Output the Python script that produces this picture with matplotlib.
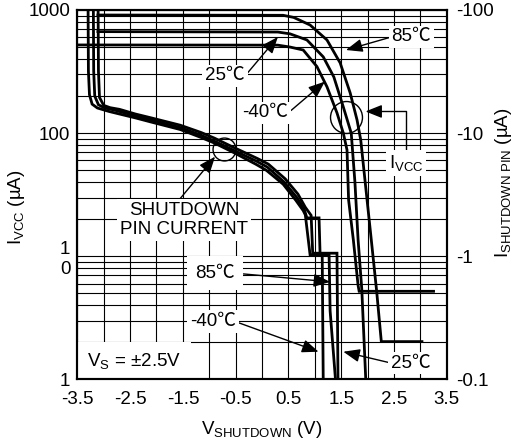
import matplotlib
matplotlib.use('Agg')
import matplotlib.pyplot as plt
from matplotlib.ticker import FixedLocator, NullFormatter

plt.rcParams['font.family'] = ['Liberation Sans', 'Noto Sans CJK JP']
plt.rcParams['mathtext.fontset'] = 'custom'
plt.rcParams['mathtext.rm'] = 'Liberation Sans'
plt.rcParams['mathtext.it'] = 'Liberation Sans:italic'
plt.rcParams['mathtext.bf'] = 'Liberation Sans:bold'
plt.rcParams['font.size'] = 13.5

# supply current (uA) vs shutdown voltage (V)
icc_85_x = [-3.11, 0.40, 0.60, 0.91, 1.23, 1.48, 1.67, 1.80, 1.87, 1.99, 2.07, 2.17, 2.26, 3.03]
icc_85_y = [910, 905, 870, 755, 571, 372, 212, 128, 88, 28.7, 13.6, 5.3, 2.03, 2.03]
icc_25_x = [-3.11, 0.30, 0.53, 0.85, 1.16, 1.36, 1.54, 1.69, 1.76, 1.82, 1.89, 1.97]
icc_25_y = [667, 662, 640, 571, 416, 286, 163, 100, 40, 13.6, 5.4, 0.9]
icc_m40_x = [-3.50, 0.30, 0.53, 0.78, 1.04, 1.23, 1.42, 1.54, 1.61, 1.64, 1.73, 1.82, 1.84, 3.25]
icc_m40_y = [520, 518, 500, 473, 347, 238, 146, 100, 73, 28.7, 13.6, 5.8, 5.2, 5.2]

# shutdown pin current (x10 on left scale)
pin_m40_x = [-3.30, -3.29, -3.27, -3.22, -3.12, -2.90, -2.40, -2.10, -1.55, -1.15, -0.90, -0.55,
             -0.12, 0.08, 0.40, 0.64, 0.78, 0.82, 0.91, 1.14, 1.16]
pin_m40_y = [2000, 320, 205, 172, 160, 150, 133, 123, 107, 92, 83, 70,
             56, 50, 38.5, 28.5, 23.5, 21.7, 10.3, 10.3, 0.9]
pin_85_x = [-3.20, -3.19, -3.17, -3.10, -2.98, -2.80, -2.40, -2.10, -1.55, -1.15, -0.90, -0.55,
            -0.10, 0.10, 0.42, 0.66, 0.80, 0.85, 1.08, 1.10, 1.27, 1.29, 1.40]
pin_85_y = [2000, 320, 200, 170, 160, 154, 138, 128, 111, 96, 86, 73,
            59, 53, 40, 30, 24, 20.5, 20.5, 10.3, 10.3, 3.6, 0.9]
pin_25_x = [-3.11, -3.10, -3.08, -3.00, -2.88, -2.70, -2.40, -2.10, -1.55, -1.15, -0.90, -0.55,
            -0.08, 0.12, 0.44, 0.68, 0.82, 0.93, 0.96, 1.42, 1.44]
pin_25_y = [2000, 320, 195, 168, 161, 156, 143, 133, 116, 101, 91, 77,
            62, 56, 42.5, 32, 25, 21.5, 10.6, 10.6, 0.9]

x_ticks = [-3.5, -2.5, -1.5, -0.5, 0.5, 1.5, 2.5, 3.5]
x_labels = ['-3.5', '-2.5', '-1.5', '-0.5', '0.5', '1.5', '2.5', '3.5']
x_minor = [-3, -2, -1, 0, 1, 2, 3]
left_ticks = [1, 10, 100, 1000]
left_labels = ['1', '1\n0', '100', '1000']
right_ticks = [0.1, 1, 10, 100]
right_labels = ['-0.1', '-1', '-10', '-100']
y_minor = [m * d for d in [1, 10, 100] for m in range(2, 10)]

fig = plt.figure(figsize=(5.19, 4.41), dpi=100)
ax = fig.add_axes([0.149, 0.1395, 0.7118, 0.8379])
ax.set_yscale('log')
ax.set_xlim(-3.5, 3.5)
ax.set_ylim(1, 1000)

ax.set_xticks(x_ticks)
ax.set_xticklabels(x_labels)
ax.xaxis.set_minor_locator(FixedLocator(x_minor))
ax.yaxis.set_major_locator(FixedLocator(left_ticks))
ax.set_yticklabels(left_labels)
ax.yaxis.set_minor_locator(FixedLocator(y_minor))
ax.yaxis.set_minor_formatter(NullFormatter())
ax.tick_params(which='both', length=0)
ax.tick_params(axis='x', pad=8)
ax.tick_params(axis='y', pad=5)
ax.grid(which='both', color='k', lw=0.8)
ax.set_axisbelow(True)
for sp in ax.spines.values():
    sp.set_linewidth(1.5)
    sp.set_zorder(5)

lw = 2.0
for xs, ys in [(icc_85_x, icc_85_y), (icc_25_x, icc_25_y), (icc_m40_x, icc_m40_y),
               (pin_m40_x, pin_m40_y), (pin_85_x, pin_85_y), (pin_25_x, pin_25_y)]:
    ax.plot(xs, ys, color='k', lw=lw, solid_joinstyle='miter')

# circles
ax.plot([1.60], [135], 'o', ms=23, mfc='none', mec='k', mew=1.0)
ax.plot([-0.73], [75], 'o', ms=16.5, mfc='none', mec='k', mew=1.0)

arrow = dict(arrowstyle='-|>,head_length=0.5,head_width=0.2', color='k', lw=1.0,
             shrinkA=0, shrinkB=0, mutation_scale=20)


def label(txt, xy, xytext, relpos, pad=0.15, **kw):
    ap = dict(arrow, relpos=relpos)
    ap.update(kw)
    ax.annotate(txt, xy=xy, xytext=xytext, ha='center', va='center', zorder=4,
                bbox=dict(boxstyle='square,pad=%s' % pad, fc='white', ec='none'),
                arrowprops=ap)


label('85℃', (1.59, 473), (2.83, 604), (0, 0.5))
label('25℃', (0.30, 604), (-0.70, 291), (1, 0.5))
label('-40℃', (1.19, 262), (0.06, 146), (1, 0.5))
label('I$_{\\mathrm{VCC}}$', (1.96, 150), (2.73, 57), (0.5, 1),
      connectionstyle='angle,angleA=90,angleB=0,rad=0')
label('SHUTDOWN\nPIN CURRENT', (-0.89, 64.4), (-1.48, 19.7), (0.45, 1))
label('85℃', (1.29, 6.2), (-0.89, 7.3), (1, 0.5), pad=0.45)
label('-40℃', (1.07, 1.68), (-0.93, 2.94), (1, 0.5))
label('25℃', (1.54, 1.68), (2.82, 1.36), (0, 0.5))

ax.text(-3.31, 1.40, 'V$_{\\mathrm{S}}$ = ±2.5V', ha='left', va='center', zorder=4,
        bbox=dict(boxstyle='square,pad=0.5', fc='white', ec='none'), clip_on=True)

ax.set_xlabel('V$_{\\mathrm{SHUTDOWN}}$ (V)')
ax.xaxis.set_label_coords(0.5, -0.108)
ax.set_ylabel('I$_{\\mathrm{VCC}}$ (µA)')
ax.yaxis.set_label_coords(-0.135, 0.467)

ax2 = ax.twinx()
ax2.set_yscale('log')
ax2.set_ylim(0.1, 100)
ax2.yaxis.set_major_locator(FixedLocator(right_ticks))
ax2.set_yticklabels(right_labels)
ax2.yaxis.set_minor_formatter(NullFormatter())
ax2.tick_params(which='both', length=0, pad=7)
ax2.set_ylabel('I$_{\\mathrm{SHUTDOWN\\ PIN}}$ (µA)')
ax2.yaxis.set_label_coords(1.125, 0.532)
for sp in ax2.spines.values():
    sp.set_linewidth(1.5)

fig.savefig('out.png', dpi=100)
